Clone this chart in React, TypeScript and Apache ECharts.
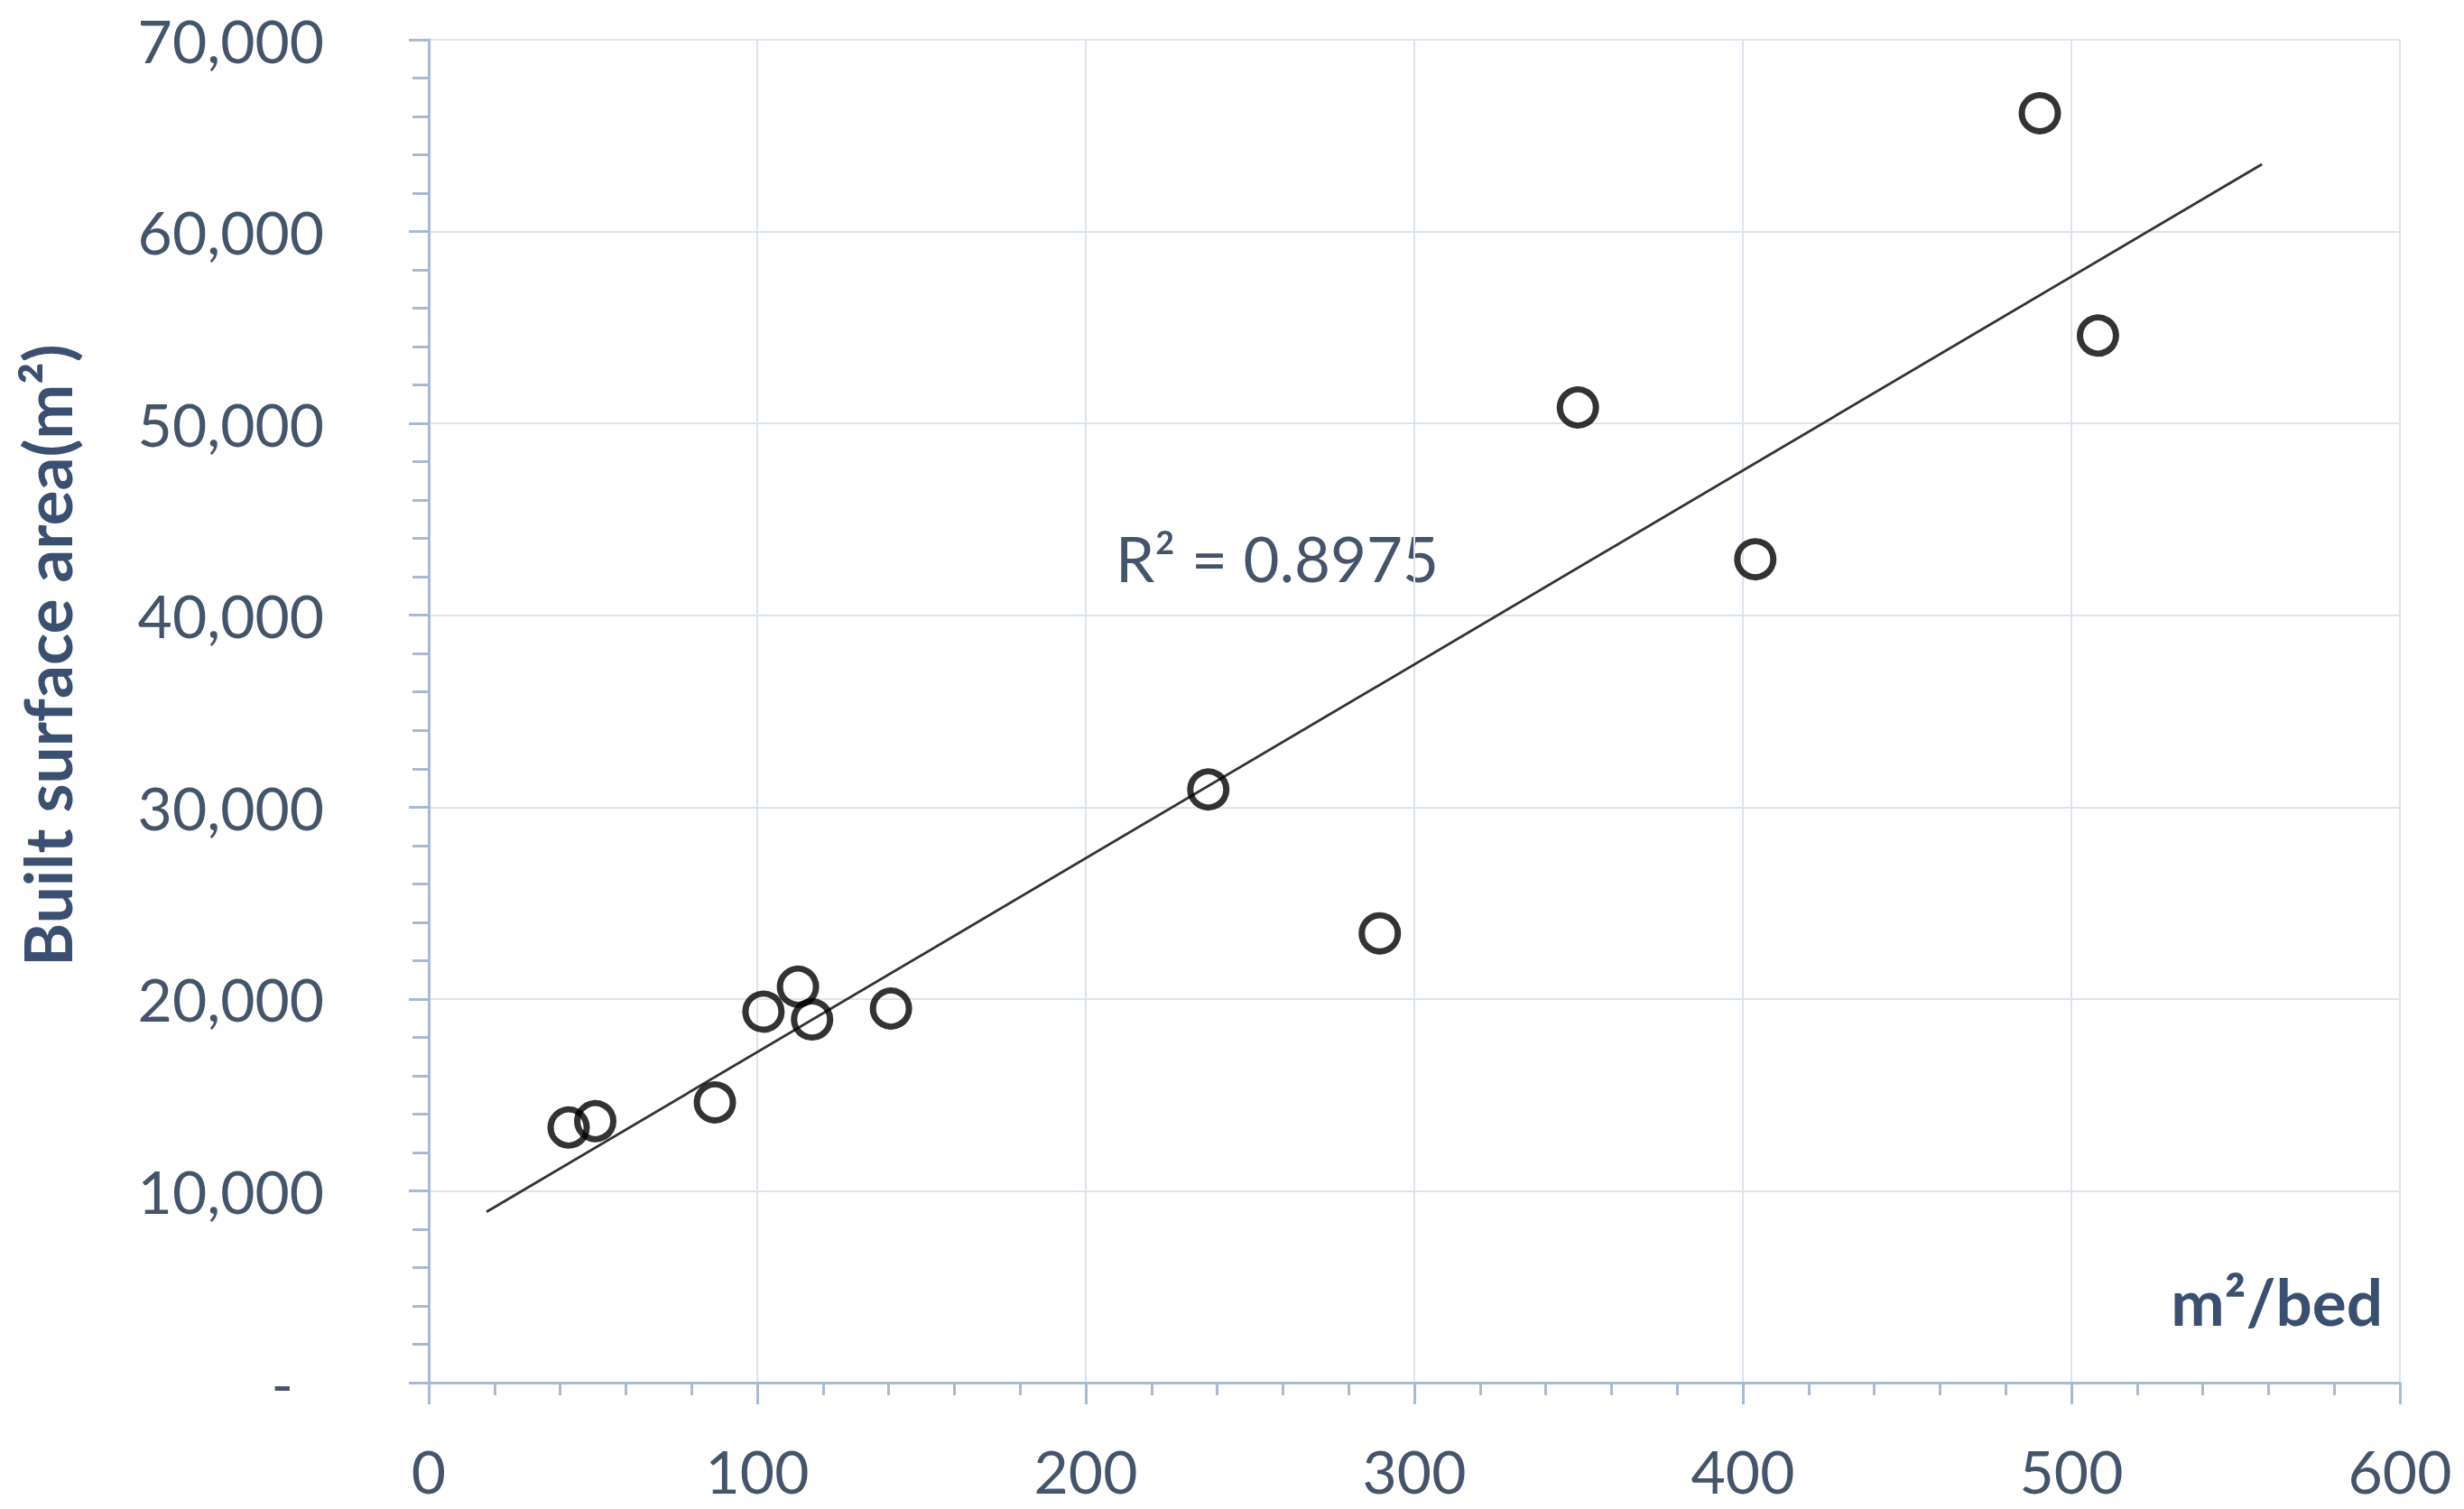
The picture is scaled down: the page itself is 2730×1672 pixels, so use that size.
import React, { useEffect, useRef } from "react";
import * as echarts from "echarts";

// m²/bed (x) and built surface area in m² (y)
const bedAreaValues = [42.6, 50.7, 87.1, 101.9, 112.4, 116.7, 140.7, 237.3, 289.5, 349.8, 403.8, 490.4, 508.1];
const surfaceAreaValues = [13300, 13630, 14610, 19340, 20640, 18930, 19500, 30920, 23420, 50830, 42920, 66170, 54580];
// trendline drawn from/to these x values (Excel forecast extents)
const trendFrom = 17.6;
const trendTo = 558;
const rSquaredText = "R\u00B2 = 0.8975";
const xAxisTitle = "m\u00B2/bed";
const yAxisTitle = "Built surface area(m\u00B2)";
const xMin = 0, xMax = 600, xStep = 100;
const yMin = 0, yMax = 70000, yStep = 10000;

const TEXT = "#44546A";
const TITLE = "#3B5070";
const AXIS = "#A9BBD3";
const GRID = "#DDE4EE";
const FONT = "Lato, 'Open Sans', sans-serif";

function linearFit(xs: number[], ys: number[]) {
  const n = xs.length;
  const mx = xs.reduce((a, b) => a + b, 0) / n;
  const my = ys.reduce((a, b) => a + b, 0) / n;
  let sxy = 0, sxx = 0;
  for (let i = 0; i < n; i++) {
    sxy += (xs[i] - mx) * (ys[i] - my);
    sxx += (xs[i] - mx) ** 2;
  }
  const slope = sxy / sxx;
  return { slope, intercept: my - slope * mx };
}

export default function App() {
  const ref = useRef<HTMLDivElement>(null);
  useEffect(() => {
    if (!ref.current) return;
    const chart = echarts.init(ref.current, undefined, { renderer: "svg" });
    const fit = linearFit(bedAreaValues, surfaceAreaValues);
    const points = bedAreaValues.map((x, i) => [x, surfaceAreaValues[i]]);
    const trend = [trendFrom, trendTo].map((x) => [x, fit.intercept + fit.slope * x]);

    chart.setOption({
      animation: false,
      backgroundColor: "#ffffff",
      grid: { left: 475, right: 71, top: 44, bottom: 140, containLabel: false },
      xAxis: {
        type: "value",
        min: xMin,
        max: xMax,
        interval: xStep,
        axisLine: { show: true, lineStyle: { color: AXIS, width: 3 } },
        axisTick: { show: true, inside: false, length: 24, lineStyle: { color: AXIS, width: 3 } },
        minorTick: { show: true, splitNumber: 5, length: 14, lineStyle: { color: AXIS, width: 3 } },
        splitLine: { show: true, lineStyle: { color: GRID, width: 2 } },
        axisLabel: { color: TEXT, fontFamily: FONT, fontSize: 66, lineHeight: 66, margin: 64 },
      },
      yAxis: {
        type: "value",
        min: yMin,
        max: yMax,
        interval: yStep,
        axisLine: { show: true, lineStyle: { color: AXIS, width: 3 } },
        axisTick: { show: true, inside: false, length: 22, lineStyle: { color: AXIS, width: 3 } },
        minorTick: { show: true, splitNumber: 5, length: 18, lineStyle: { color: AXIS, width: 3 } },
        splitLine: { show: true, lineStyle: { color: GRID, width: 2 } },
        axisLabel: {
          color: TEXT,
          fontFamily: FONT,
          fontSize: 66,
          lineHeight: 66,
          margin: 116,
          formatter: (v: number) => (v === 0 ? "{dash|-}" : v.toLocaleString("en-US")),
          rich: {
            dash: { color: TEXT, fontFamily: FONT, fontSize: 66, lineHeight: 66, padding: [0, 34, 0, 0] },
          },
        },
      },
      series: [
        {
          type: "line",
          data: trend,
          symbol: "none",
          silent: true,
          z: 2,
          lineStyle: { color: "#333333", width: 2.8 },
        },
        {
          type: "scatter",
          data: points,
          symbol: "circle",
          symbolSize: 40,
          z: 3,
          itemStyle: { color: "rgba(0,0,0,0)", borderColor: "#000000", borderWidth: 7 },
        },
      ],
      graphic: [
        {
          type: "text",
          x: 1236,
          y: 618,
          style: {
            text: rSquaredText,
            fill: TEXT,
            font: `69px ${FONT}`,
            textAlign: "left",
            textVerticalAlign: "middle",
          },
        },
        {
          type: "text",
          x: 2640,
          y: 1441,
          style: {
            text: xAxisTitle,
            fill: TITLE,
            font: `bold 71px ${FONT}`,
            textAlign: "right",
            textVerticalAlign: "middle",
          },
        },
        {
          type: "text",
          x: 52,
          y: 726,
          rotation: Math.PI / 2,
          style: {
            text: yAxisTitle,
            fill: TITLE,
            font: `bold 73px ${FONT}`,
            textAlign: "center",
            textVerticalAlign: "middle",
          },
        },
      ],
    });
    return () => chart.dispose();
  }, []);
  return (
    <div
      ref={ref}
      style={{ position: "fixed", left: 0, top: 0, width: 2730, height: 1672, background: "#fff" }}
    />
  );
}
